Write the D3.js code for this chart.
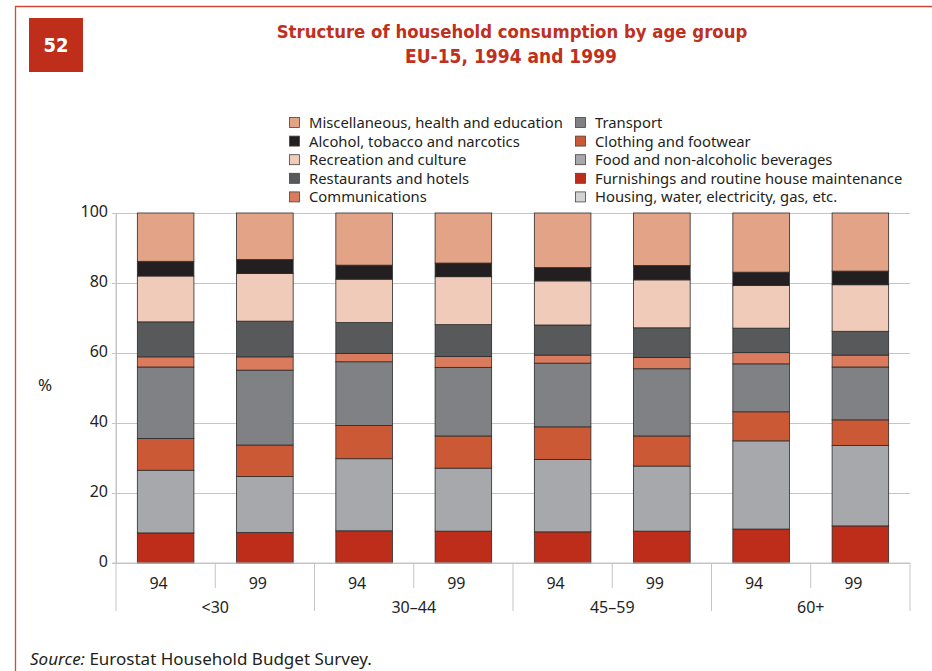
<!DOCTYPE html>
<html>
<head>
<meta charset="utf-8">
<script src="https://cdn.jsdelivr.net/npm/d3@7"></script>
<style>
  html, body { margin: 0; padding: 0; background: #fff; }
  svg { display: block; }
  .lbl { font-family: "Noto Sans", "DejaVu Sans", sans-serif; fill: #231f20; }
</style>
</head>
<body>
<svg id="chart" width="932" height="671"></svg>
<script>
// Bars: age group × survey year
const bars = ["<30|94", "<30|99", "30–44|94", "30–44|99", "45–59|94", "45–59|99", "60+|94", "60+|99"];
const ageGroups = ["<30", "30–44", "45–59", "60+"];
const years = ["94", "99", "94", "99", "94", "99", "94", "99"];
const yTicks = [0, 20, 40, 60, 80, 100];

// Shares of total consumption (%), one value per bar
const housing        = [0, 0, 0, 0, 0, 0, 0, 0];
const furnishings    = [8.6, 8.7, 9.2, 9.1, 8.9, 9.1, 9.7, 10.6];
const food           = [17.9, 16.0, 20.6, 18.0, 20.7, 18.6, 25.2, 23.0];
const clothing       = [9.1, 9.0, 9.5, 9.2, 9.3, 8.6, 8.3, 7.3];
const transport      = [20.4, 21.4, 18.2, 19.6, 18.2, 19.2, 13.7, 15.1];
const communications = [2.9, 3.8, 2.4, 3.1, 2.3, 3.2, 3.2, 3.4];
const restaurants    = [10.0, 10.2, 8.8, 9.1, 8.6, 8.5, 7.0, 6.8];
const recreation     = [13.1, 13.6, 12.4, 13.7, 12.6, 13.7, 12.2, 13.3];
const alcohol        = [4.2, 4.0, 4.0, 3.9, 3.8, 4.1, 3.8, 3.9];
const miscellaneous  = [13.8, 13.3, 14.9, 14.3, 15.6, 15.0, 16.9, 16.6];

// Series in stacking order, bottom to top
const series = [
  { key: "housing",        name: "Housing, water, electricity, gas, etc.",    color: "#d3d3d4", values: housing },
  { key: "furnishings",    name: "Furnishings and routine house maintenance", color: "#be2d1a", values: furnishings },
  { key: "food",           name: "Food and non-alcoholic beverages",          color: "#a7a8ab", values: food },
  { key: "clothing",       name: "Clothing and footwear",                     color: "#cb5935", values: clothing },
  { key: "transport",      name: "Transport",                                 color: "#808184", values: transport },
  { key: "communications", name: "Communications",                            color: "#d97b5c", values: communications },
  { key: "restaurants",    name: "Restaurants and hotels",                    color: "#58595b", values: restaurants },
  { key: "recreation",     name: "Recreation and culture",                    color: "#f1cbb9", values: recreation },
  { key: "alcohol",        name: "Alcohol, tobacco and narcotics",            color: "#231f20", values: alcohol },
  { key: "miscellaneous",  name: "Miscellaneous, health and education",       color: "#e3a386", values: miscellaneous }
];

const svg = d3.select("#chart");
const red = "#c0301c";

// Page frame
svg.append("path")
  .attr("d", "M932,6.5 H15.5 V671")
  .attr("fill", "none").attr("stroke", "#d2483a").attr("stroke-width", 1.3);

// Figure number box
const condensed = "'Liberation Sans Narrow', 'DejaVu Sans Condensed', sans-serif";
svg.append("rect").attr("x", 29).attr("y", 18).attr("width", 54).attr("height", 54).attr("fill", "#bf2e1a");
svg.append("text").attr("x", 56).attr("y", 52).attr("text-anchor", "middle")
  .attr("font-family", condensed)
  .attr("font-weight", "bold").attr("font-size", 20).attr("fill", "#fff").text("52");

// Title
svg.append("text").attr("x", 512).attr("y", 38).attr("text-anchor", "middle")
  .attr("font-family", condensed).attr("font-weight", "bold").attr("font-size", 18.4).attr("fill", red)
  .text("Structure of household consumption by age group");
svg.append("text").attr("x", 511).attr("y", 63).attr("text-anchor", "middle")
  .attr("font-family", condensed).attr("font-weight", "bold").attr("font-size", 19).attr("fill", red)
  .text("EU-15, 1994 and 1999");

// Scales
const x = d3.scaleBand().domain(bars).range([116, 910]).paddingInner(0.43).paddingOuter(0.215);
const y = d3.scaleLinear().domain([0, 100]).range([563, 213]);

// Gridlines and y axis
const yAxis = d3.axisLeft(y).tickValues(yTicks).tickSize(-(910 - 116)).tickPadding(8);
const gy = svg.append("g").attr("transform", "translate(116,0)").call(yAxis);
gy.select(".domain").attr("stroke", "#c4c5c7");
gy.selectAll(".tick line").attr("stroke", "#c4c5c7").attr("x1", -4);
gy.selectAll(".tick text").attr("class", "lbl").attr("font-size", 16).attr("dy", "0.2em");
svg.append("line").attr("x1", 116).attr("x2", 116).attr("y1", 213).attr("y2", 563).attr("stroke", "#c4c5c7");

svg.append("text").attr("class", "lbl").attr("x", 45).attr("y", 391).attr("text-anchor", "middle")
  .attr("font-size", 17).text("%");

// Stacked bars
const rows = bars.map((b, i) => {
  const r = { bar: b };
  series.forEach(s => { r[s.key] = s.values[i]; });
  return r;
});
const stacked = d3.stack().keys(series.map(s => s.key))(rows);

const gBars = svg.append("g");
stacked.forEach((layer, li) => {
  gBars.selectAll(null)
    .data(layer.filter(d => d[1] - d[0] > 0))
    .join("rect")
    .attr("x", d => x(d.data.bar))
    .attr("width", x.bandwidth())
    .attr("y", d => y(d[1]))
    .attr("height", d => y(d[0]) - y(d[1]))
    .attr("fill", series[li].color)
    .attr("stroke", "#2b2b2b")
    .attr("stroke-width", 0.8);
});

// X axis: baseline, separators, year and age-group labels
svg.append("line").attr("x1", 112).attr("x2", 910).attr("y1", 563).attr("y2", 563).attr("stroke", "#c4c5c7");
const step = x.step();
bars.forEach((b, i) => {
  const left = x(b) - x.paddingInner() * step / 2;
  const isGroupStart = i % 2 === 0;
  svg.append("line").attr("x1", left).attr("x2", left)
    .attr("y1", 563).attr("y2", isGroupStart ? 611 : 588)
    .attr("stroke", "#c4c5c7");
  svg.append("text").attr("class", "lbl").attr("font-size", 16).attr("text-anchor", "middle")
    .attr("x", x(b) + x.bandwidth() / 2 - 7).attr("y", 589).text(years[i]);
});
svg.append("line").attr("x1", 910).attr("x2", 910).attr("y1", 563).attr("y2", 611).attr("stroke", "#c4c5c7");
ageGroups.forEach((g, gi) => {
  const cx = x(bars[gi * 2]) - x.paddingInner() * step / 2 + step;
  svg.append("text").attr("class", "lbl").attr("font-size", 16).attr("text-anchor", "middle")
    .attr("x", cx).attr("y", 613).text(g);
});

// Legend: two columns, read top-down
const legendOrder = series.slice().reverse();
legendOrder.forEach((s, i) => {
  const col = i < 5 ? 0 : 1;
  const row = i % 5;
  const lx = col === 0 ? 289 : 575;
  const ly = 123 + row * 18.6;
  svg.append("rect").attr("x", lx + 0.5).attr("y", ly - 5.5).attr("width", 10).attr("height", 10)
    .attr("fill", s.color).attr("stroke", "#444").attr("stroke-width", 0.8);
  svg.append("text").attr("class", "lbl").attr("font-size", 14.8)
    .attr("x", lx + 20).attr("y", ly + 5).text(s.name);
});

// Source note
const src = svg.append("text").attr("class", "lbl").attr("font-size", 17).attr("x", 30).attr("y", 665);
src.append("tspan").attr("font-style", "italic").text("Source:");
src.append("tspan").text(" Eurostat Household Budget Survey.");
</script>
</body>
</html>
